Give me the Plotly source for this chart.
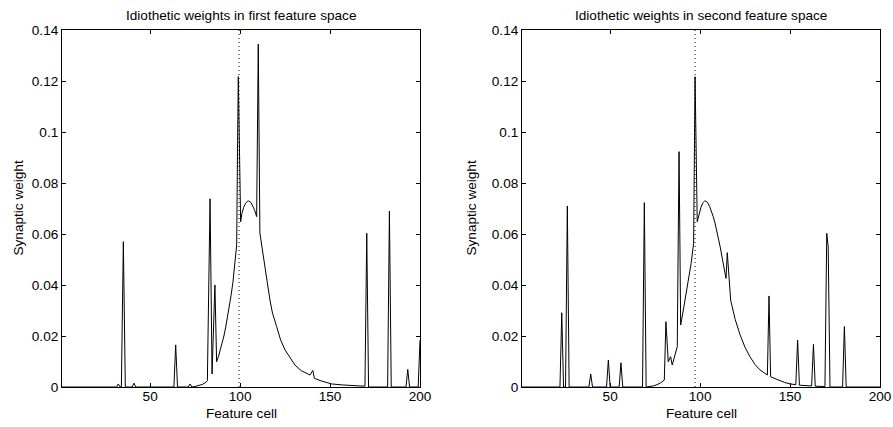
import plotly.graph_objects as go

# ---------------- data ----------------
# First feature space (left panel)
first_cells = [1, 31.3, 32.3, 33.3, 34.0, 35.1, 36.2, 40.0, 41.0, 42.0,
               63.2, 64.2, 65.2, 71.2, 72.2, 73.2, 75, 77, 79, 81, 81.8,
               83.3, 84.4, 86.0, 86.95, 88, 89, 90, 91, 92, 93, 94, 95, 96, 97,
               98.1, 98.6, 99.0, 100.3, 101, 102, 103, 104, 104.6, 106, 107, 108,
               109.2, 110.1, 111.0, 112, 113, 114, 115, 116.6, 118, 120.3, 122.5,
               125, 128, 130.5, 134, 138.9, 140.4, 141.3, 145, 150.9, 157, 164,
               169.4, 170.4, 171.4, 182.0, 183.0, 184.0, 192.2, 193.2, 194.2,
               199.0, 200]
first_weights = [0, 0, 0.0012, 0, 0, 0.057, 0, 0, 0.0015, 0,
                 0, 0.0165, 0, 0, 0.0012, 0, 0.0002, 0.0005, 0.001, 0.0018, 0.0025,
                 0.0738, 0.0051, 0.040, 0.0099, 0.012, 0.0145, 0.0172, 0.0200, 0.0235,
                 0.0272, 0.0315, 0.036, 0.041, 0.047,
                 0.0557, 0.096, 0.1217, 0.0648, 0.068, 0.0705, 0.0720, 0.0728, 0.0730,
                 0.0724, 0.0712, 0.0695,
                 0.0668, 0.1345, 0.0604, 0.0553, 0.0505, 0.046, 0.0415, 0.0341, 0.029,
                 0.0237, 0.0185,
                 0.0145, 0.011, 0.0086, 0.0064, 0.0047, 0.0065, 0.0034, 0.0024, 0.0012,
                 0.0008, 0.0005,
                 0.0003, 0.0603, 0, 0, 0.069, 0, 0, 0.0069, 0,
                 0, 0.0184]

# Second feature space (right panel)
second_cells = [1, 22.1, 23.1, 24.1, 25.2, 26.2, 27.2, 38.2, 39.2, 40.2,
                48.0, 49.0, 50.0, 55.0, 56.0, 57.0, 68.0, 69.0, 70.0, 72, 74, 76, 78,
                80.1, 81.0, 82.3, 83.6, 84.5, 86, 87.3, 88.3, 89.2, 91, 93, 95, 96.4,
                96.8, 97.2, 98.4, 99.5, 100.5, 101.5, 102.5, 103.3, 104.3, 105.3, 106.3,
                107.3, 108.3, 109.2, 110.3, 111.3, 112.3, 113.3, 114.4, 115.1, 117,
                119.5, 122.2, 125, 127.7, 130.5, 133.3, 137.4, 138.3, 139.2, 141.5,
                144.4, 147, 150, 153.2, 154.2, 155.2, 162.0, 163.0, 164.0, 169.4,
                170.4, 171.2, 172.2, 179.2, 180.2, 181.2, 200]
second_weights = [0, 0, 0.0291, 0, 0, 0.071, 0, 0, 0.0051, 0,
                  0, 0.0106, 0, 0, 0.0095, 0, 0, 0.0723, 0, 0.0001, 0.0004, 0.0009, 0.0016,
                  0.0027, 0.0256, 0.0099, 0.0119, 0.0086, 0.012, 0.0158, 0.0923, 0.0243,
                  0.0315, 0.040, 0.0485, 0.0563,
                  0.094, 0.1217, 0.0648, 0.0680, 0.0705, 0.0722, 0.0729, 0.0729, 0.0722,
                  0.0708, 0.0690,
                  0.0668, 0.0643, 0.0616, 0.0580, 0.0545, 0.0505, 0.0465, 0.0426, 0.0527,
                  0.0340,
                  0.0265, 0.0205, 0.0155, 0.0119, 0.0088, 0.0067, 0.0047, 0.0357, 0.0040,
                  0.0032,
                  0.0025, 0.0018, 0.0012, 0.0009, 0.0184, 0.0007, 0.0004, 0.0167, 0.0003,
                  0.0002,
                  0.0603, 0.055, 0, 0, 0.0237, 0, 0]

dotted_cells = [99.4, 97.2]
titles = ["Idiothetic weights in first feature space",
          "Idiothetic weights in second feature space"]
x_ticks = [50, 100, 150, 200]
y_ticks = [0, 0.02, 0.04, 0.06, 0.08, 0.1, 0.12, 0.14]

# ---------------- figure ----------------
W, H = 893, 427
FONT = "Liberation Sans, Arial, Helvetica, sans-serif"
TXT = 13.6

fig = go.Figure()
fig.add_trace(go.Scatter(x=first_cells, y=first_weights, mode="lines",
                         line=dict(color="black", width=1), xaxis="x", yaxis="y",
                         showlegend=False, hoverinfo="skip"))
fig.add_trace(go.Scatter(x=second_cells, y=second_weights, mode="lines",
                         line=dict(color="black", width=1), xaxis="x2", yaxis="y2",
                         showlegend=False, hoverinfo="skip"))

left_px = [(62, 420), (522, 880)]
ylabel_px = [18, 471]
top_px, bot_px = 30, 387
ydom = [1 - bot_px / H, 1 - top_px / H]

axis_common = dict(showline=True, linecolor="black", linewidth=1, mirror="ticks",
                   ticks="inside", ticklen=4, tickcolor="black", tickwidth=1,
                   showgrid=False, zeroline=False, automargin=False,
                   tickfont=dict(family=FONT, size=TXT, color="black"))

layout = dict(width=W, height=H,
              margin=dict(l=0, r=0, t=0, b=0, pad=0, autoexpand=False),
              paper_bgcolor="white", plot_bgcolor="white",
              font=dict(family=FONT, size=TXT, color="black"))
for i, (l, r) in enumerate(left_px):
    sx = "" if i == 0 else "2"
    layout["xaxis" + sx] = dict(axis_common, domain=[l / W, r / W], range=[1, 200],
                                tickvals=x_ticks, anchor="y" + sx, ticklabelstandoff=-3)
    layout["yaxis" + sx] = dict(axis_common, domain=ydom, range=[0, 0.14],
                                tickvals=y_ticks, anchor="x" + sx)
fig.update_layout(**layout)

annotations = []
shapes = []
for i, (l, r) in enumerate(left_px):
    sx = "" if i == 0 else "2"
    cx = (l + r) / 2 / W
    annotations.append(dict(text=titles[i], x=cx, y=1 - 15 / H, xref="paper", yref="paper",
                            showarrow=False, xanchor="center", yanchor="middle",
                            font=dict(family=FONT, size=TXT, color="black")))
    annotations.append(dict(text="Feature cell", x=cx, y=1 - 413 / H, xref="paper",
                            yref="paper", showarrow=False, xanchor="center",
                            yanchor="middle", borderpad=0,
                            font=dict(family=FONT, size=TXT, color="black")))
    annotations.append(dict(text="Synaptic weight", x=ylabel_px[i] / W,
                            y=(ydom[0] + ydom[1]) / 2,
                            xref="paper", yref="paper", showarrow=False, textangle=-90,
                            xanchor="center", yanchor="middle",
                            font=dict(family=FONT, size=TXT, color="black")))
    shapes.append(dict(type="line", xref="x" + sx, yref="y" + sx + " domain",
                       x0=dotted_cells[i], x1=dotted_cells[i], y0=0, y1=1,
                       line=dict(color="black", width=1, dash="1px,3px")))
fig.update_layout(annotations=annotations, shapes=shapes)

fig.write_html("out.html")
